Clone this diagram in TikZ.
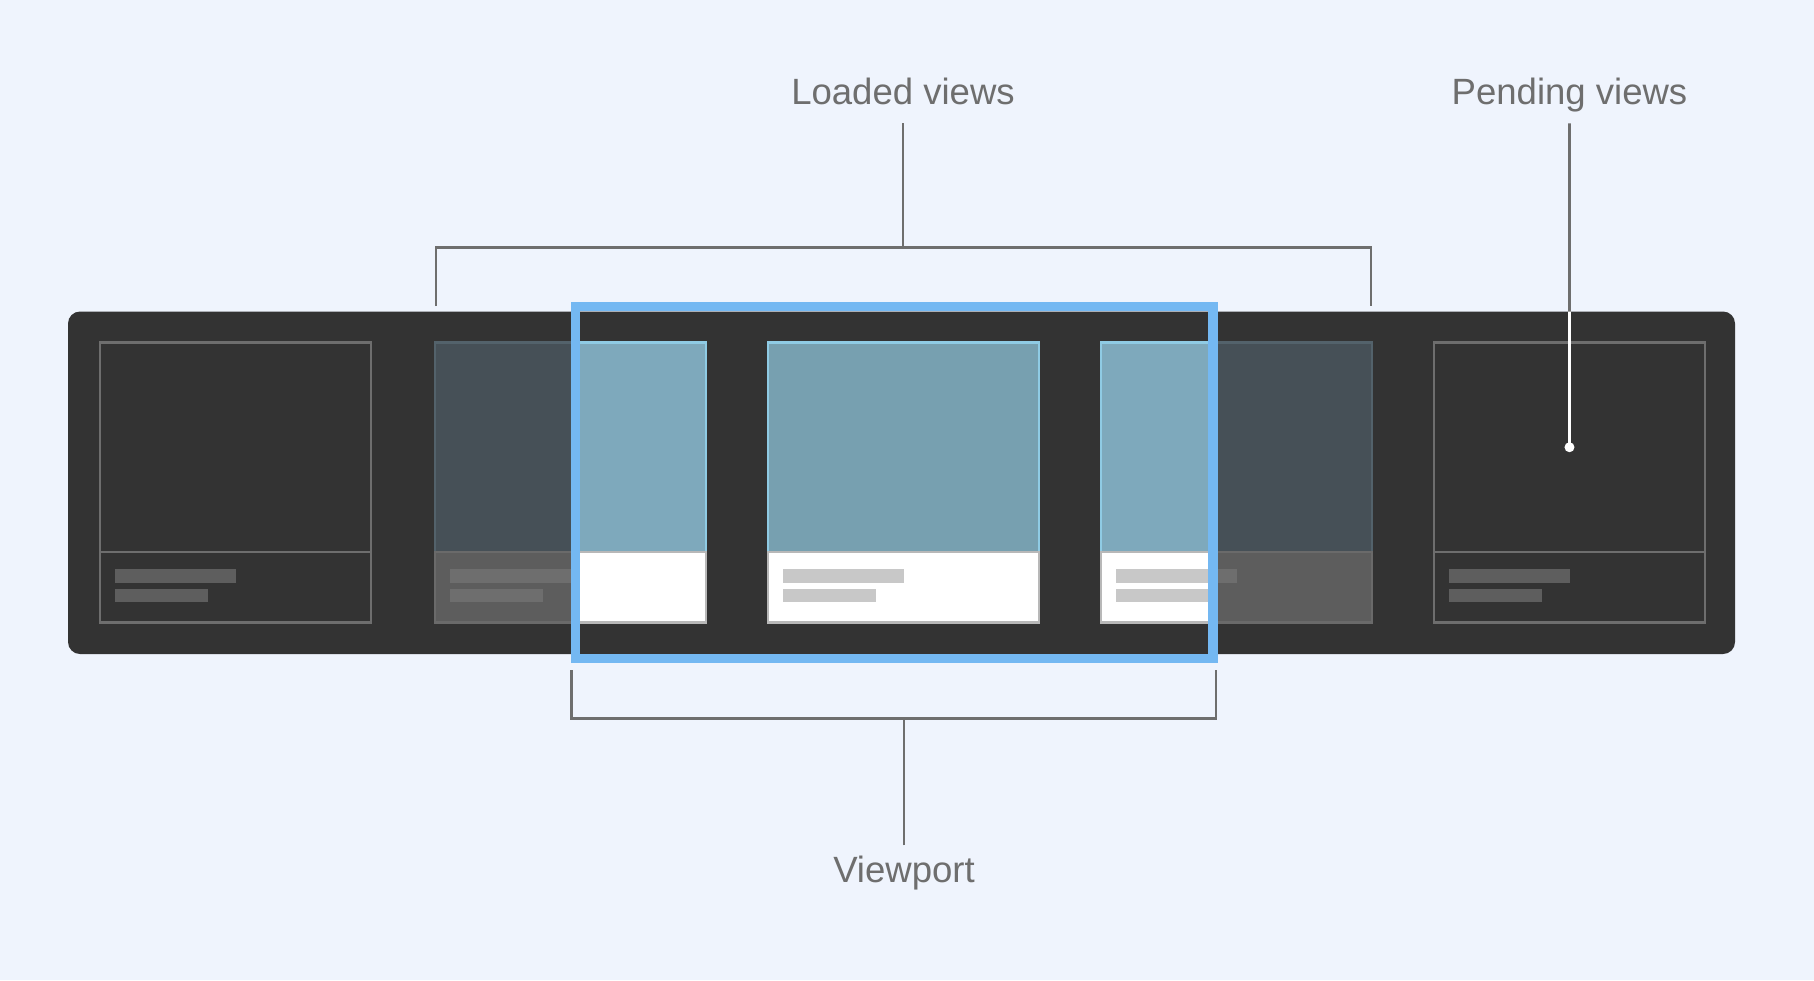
\documentclass[tikz,border=0pt]{standalone}
\usepackage{fontspec}
\setmainfont{Liberation Sans}
\definecolor{bg}{HTML}{EFF4FD}
\definecolor{dark}{HTML}{333333}
\definecolor{lgrey}{HTML}{6E6E6E}
\definecolor{pendline}{HTML}{6E6E6E}
\definecolor{pendbar}{HTML}{5E5E5E}
\definecolor{dimtop}{HTML}{465057}
\definecolor{dimtopline}{HTML}{53626B}
\definecolor{dimbot}{HTML}{5D5D5D}
\definecolor{dimbotline}{HTML}{6A6A6A}
\definecolor{dimbar}{HTML}{6E6E6E}
\definecolor{littop}{HTML}{7EA9BC}
\definecolor{midtop}{HTML}{77A0B0}
\definecolor{littopline}{HTML}{8FCBE4}
\definecolor{litbotline}{HTML}{B8B8B8}
\definecolor{litbar}{HTML}{C8C8C8}
\definecolor{vpblue}{HTML}{74B8F2}
\tikzset{
  cardpart/.style={rectangle, inner sep=0pt, outer sep=0pt, minimum width=5.42cm, line width=1.4pt, anchor=north west},
  label/.style={font=\fontsize{20.8}{25}\selectfont, text=lgrey, inner sep=0.18cm, text height=15.6pt, text depth=5.2pt, anchor=base},
  bracket/.style={draw=lgrey, line width=1.5pt},
}
% #1 x-left, #2 top fill, #3 top border, #4 bottom fill, #5 bottom border, #6 bar colour, #7 name
\newcommand\mycard[7]{%
  \node[cardpart, fill=#2, draw=#3, minimum height=4.19cm] (#7t) at (#1,342.5) {};
  \node[cardpart, fill=#4, draw=#5, minimum height=1.41cm] (#7b) at (#1,552) {};
  \fill[#6] ({#1+15},569) rectangle ({#1+136},583);
  \fill[#6] ({#1+15},589) rectangle ({#1+108},602);
}
\begin{document}
\begin{tikzpicture}[x=0.02cm,y=-0.02cm]
\useasboundingbox[fill=bg] (0,0) rectangle (1814,980);
% strip
\fill[dark, rounded corners=0.24cm] (68,311.5) rectangle (1735,654);
% pending / outside cards
\mycard{100}{dark}{pendline}{dark}{pendline}{pendbar}{c1}
\mycard{1434}{dark}{pendline}{dark}{pendline}{pendbar}{c5}
% loaded, dimmed outside viewport
\mycard{435}{dimtop}{dimtopline}{dimbot}{dimbotline}{dimbar}{c2}
\mycard{1101}{dimtop}{dimtopline}{dimbot}{dimbotline}{dimbar}{c4}
\mycard{768}{midtop}{littopline}{white}{litbotline}{litbar}{c3}
\begin{scope}
  \clip (575.5,306.5) rectangle (1213,658.5);
  \mycard{435}{littop}{littopline}{white}{litbotline}{litbar}{c2l}
  \mycard{1101}{littop}{littopline}{white}{litbotline}{litbar}{c4l}
\end{scope}
% viewport frame
\draw[vpblue, line width=5.4pt] (575.5,306.5) rectangle (1213,658.5);
% labels
\node[label] (lv) at (903,105) {Loaded views};
\node[label] (pv) at (1569.5,105) {Pending views};
\node[label] (vp) at (904,882) {Viewport};
% loaded bracket
\coordinate (lvL) at (436,306);
\coordinate (lvR) at (1371,306);
\coordinate (lvJ) at (903,247.5);
\draw[bracket] (lvL) |- (lvJ) -| (lvR);
\draw[bracket] (lv.south) -- (lvJ);
% viewport bracket
\coordinate (vpL) at (571.5,670);
\coordinate (vpR) at (1216,670);
\coordinate (vpJ) at (904,718.5);
\draw[bracket] (vpL) |- (vpJ) -| (vpR);
\draw[bracket] (vp.north) -- (vpJ);
% pending pointer
\coordinate (pvedge) at (1569.5,311.5);
\draw[bracket] (pv.south) -- (c5t.center);
\draw[white, line width=1.5pt] (pvedge) -- (c5t.center);
\fill[white] (c5t.center) circle (0.1cm);
\end{tikzpicture}
\end{document}
